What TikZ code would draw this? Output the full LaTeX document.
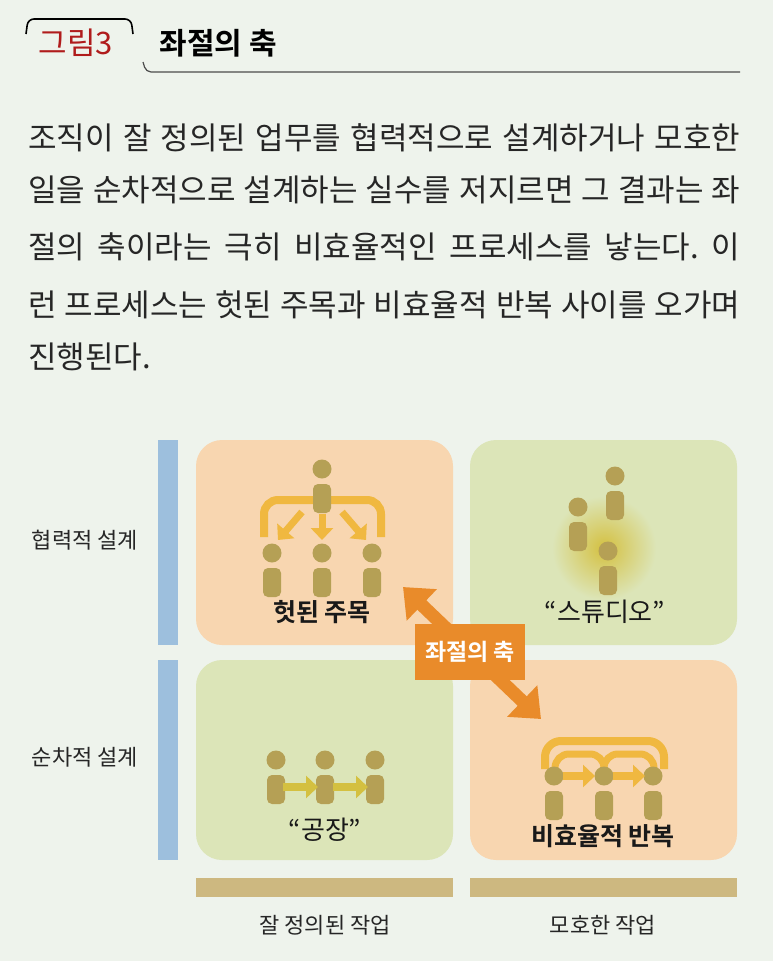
\documentclass[tikz,border=0pt]{standalone}
\usepackage{fontspec}
\setmainfont{Noto Sans CJK KR}
\newfontfamily\kb{Noto Sans CJK KR Bold}
\usetikzlibrary{arrows.meta}
\definecolor{bg}{HTML}{EEF3EC}
\definecolor{peach}{HTML}{F8D6B0}
\definecolor{grn}{HTML}{DCE5B8}
\definecolor{blu}{HTML}{9DBFDD}
\definecolor{tan}{HTML}{CDB880}
\definecolor{fig}{HTML}{B5A055}
\definecolor{org}{HTML}{E98B2A}
\definecolor{gold}{HTML}{F0B840}
\definecolor{ylw}{HTML}{D4C040}
\definecolor{dred}{HTML}{B01C1C}
\tikzset{
 quad/.style={rounded corners=26pt},
 para/.style={anchor=west,inner sep=0,font=\fontsize{31}{31}\selectfont,text=black!85},
 side/.style={font=\fontsize{22}{22}\selectfont,text=black!85},
 qlab/.style={font=\kb\fontsize{25}{25}\selectfont,text=black!90},
 goldarrow/.style={gold,line width=7pt,-{Triangle[length=12pt,width=22pt]}},
}
\newcommand{\person}[3]{% x, yhead, name
 \fill[fig] (#1,#2) circle (9.5) coordinate (#3);
 \fill[fig,rounded corners=5pt] (#1-9,#2+15) rectangle (#1+9,#2+44);}
\begin{document}
\begin{tikzpicture}[x=1pt,y=-1pt]
\fill[bg] (0,0) rectangle (773,961);
\useasboundingbox (0,0) rectangle (773,961);
% title
\draw[line width=1.6pt,rounded corners=6pt] (26,34)--(28,19)--(131,19)--(133,34);
\node[text=dred,font=\fontsize{31}{31}\selectfont] (fig) at (76,43) {그림3};
\node[anchor=west,font=\kb\fontsize{30}{30}\selectfont] (ttl) at (156,43) {좌절의 축};
\draw[line width=1.2pt,rounded corners=5pt,black!70] (143,62)--(146,72)--(740,72);
% paragraph
\node[para] (p1) at (28,138) {\makebox[712pt][s]{조직이 잘 정의된 업무를 협력적으로 설계하거나 모호한}};
\node[para] (p2) at (28,190) {\makebox[712pt][s]{일을 순차적으로 설계하는 실수를 저지르면 그 결과는 좌}};
\node[para] (p3) at (28,247) {\makebox[712pt][s]{절의 축이라는 극히 비효율적인 프로세스를 낳는다.\ 이}};
\node[para] (p4) at (28,305) {\makebox[712pt][s]{런 프로세스는 헛된 주목과 비효율적 반복 사이를 오가며}};
\node[para] (p5) at (28,357) {진행된다.};
% axes
\fill[blu] (158,440) rectangle (178,645);
\fill[blu] (158,660) rectangle (178,860);
\fill[tan] (196,878) rectangle (453,897);
\fill[tan] (470,878) rectangle (737,897);
\node[side] (l1) at (85,540) {협력적 설계};
\node[side] (l2) at (85,757) {순차적 설계};
\node[side] (b1) at (325,925) {잘 정의된 작업};
\node[side] (b2) at (603,925) {모호한 작업};
% quadrants
\fill[peach,quad] (196,440) rectangle (453,645);
\fill[grn,quad] (470,440) rectangle (737,645);
\fill[grn,quad] (196,660) rectangle (453,860);
\fill[peach,quad] (470,660) rectangle (737,860);
\node[qlab] (q1) at (322,612) {헛된 주목};
\node[qlab,font=\fontsize{26}{26}\selectfont] (q2) at (605,612) {“스튜디오”};
\node[qlab,font=\fontsize{26}{26}\selectfont] (q3) at (325,830) {“공장”};
\node[qlab] (q4) at (603,836) {비효율적 반복};
% TL
\draw[gold,line width=8pt,rounded corners=14pt] (264,537)--(264,500)--(381,500)--(381,537);
\person{322}{469}{t0}
\person{272}{553}{t1}
\person{322}{553}{t2}
\person{372}{553}{t3}
\draw[goldarrow] (302,512)--(278,540);
\draw[goldarrow] (322,514)--(322,540);
\draw[goldarrow] (342,512)--(366,540);
% TR
\shade[inner color=ylw,outer color=grn] (604,548) circle (52);
\person{615}{476}{s1}
\person{578}{507}{s2}
\person{608}{551}{s3}
% BL
\person{276}{760}{f1}
\person{325}{760}{f2}
\person{375}{760}{f3}
\draw[ylw,line width=8pt,-{Triangle[length=12pt,width=22pt]}] (283,787)--(318,787);
\draw[ylw,line width=8pt,-{Triangle[length=12pt,width=22pt]}] (333,787)--(368,787);
% BR
\draw[gold,line width=8pt,rounded corners=16pt] (545,769)--(545,741)--(664,741)--(664,769);
\draw[gold,line width=7pt,rounded corners=14pt] (555,772)--(555,754)--(604,754)--(604,772);
\draw[gold,line width=7pt,rounded corners=14pt] (604,772)--(604,754)--(654,754)--(654,772);
\person{554}{776}{r1}
\person{604}{776}{r2}
\person{653}{776}{r3}
\draw[gold,line width=8pt,-{Triangle[length=12pt,width=22pt]}] (563,776)--(595,776);
\draw[gold,line width=8pt,-{Triangle[length=12pt,width=22pt]}] (613,776)--(645,776);
% axis arrow
\coordinate (aa) at (403,587);
\coordinate (ab) at (541,719);
\draw[org,line width=13pt,{Triangle[length=26pt,width=42pt]}-{Triangle[length=26pt,width=42pt]}] (aa)--(ab);
\node[fill=org,text=white,font=\kb\fontsize{23}{23}\selectfont,minimum width=110pt,minimum height=56pt,inner sep=0] (ax) at (470,652) {좌절의 축};
\end{tikzpicture}
\end{document}
